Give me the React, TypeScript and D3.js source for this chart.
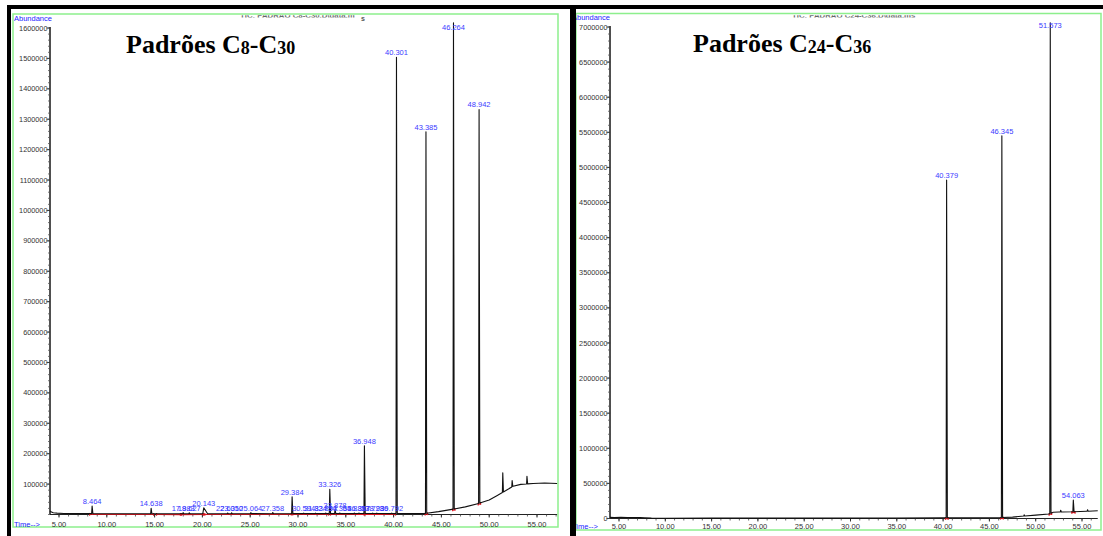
import React from "react";
import * as d3 from "d3";

const W = 1103;
const H = 536;

// ---------- Padrões C8–C30 ----------
const c8BaseTimes = [4.06, 4.15, 4.4, 4.8, 5.5, 7, 10, 12.5, 15, 17.5, 20, 22.5, 25, 27.5, 30, 32.5, 35, 37.5, 40, 42, 43.3, 44.7, 46.1, 47.5, 48.9, 50, 50.8, 51.7, 52.5, 53.3, 54.6, 55.8, 57.1];
const c8BaseAbund = [12000, 9000, 6000, 4500, 3500, 3000, 2600, 2500, 2600, 2500, 2700, 2600, 2800, 2700, 3000, 2900, 3000, 3100, 3000, 3300, 3600, 9500, 16800, 25000, 36500, 48000, 62000, 78000, 93000, 99000, 102000, 103500, 102000];
const c8PeakTimes = [8.464, 14.638, 17.983, 18.627, 20.143, 22.631, 23.05, 25.064, 27.358, 29.384, 30.594, 31.834, 32.893, 33.326, 33.878, 34.364, 35.885, 36.367, 36.948, 37.798, 38.236, 39.792, 40.301, 43.385, 46.264, 48.942];
const c8PeakAbund = [28000, 20000, 6000, 5500, 22000, 5000, 5500, 6000, 6500, 58000, 4500, 4500, 5000, 83000, 16000, 5000, 5000, 5000, 226000, 4500, 4500, 4500, 1504000, 1259000, 1617000, 1332000];
const c8SmallSpikeTimes = [51.42, 52.4, 53.95];
const c8SmallSpikeAbund = [137000, 112000, 126000];
const c8IntegStart = [8.2, 15.2, 17.8, 20.25, 29.45, 33.4, 37.0, 43.3, 46.18, 48.85];
const c8IntegEnd = [14.9, 17.7, 20.1, 29.3, 33.2, 36.9, 40.2, 43.55, 46.42, 49.1];
const c8YTicks = [100000, 200000, 300000, 400000, 500000, 600000, 700000, 800000, 900000, 1000000, 1100000, 1200000, 1300000, 1400000, 1500000, 1600000];

// ---------- Padrões C24–C36 ----------
const c24BaseTimes = [4.03, 4.5, 5.2, 5.9, 6.6, 7.3, 7.8, 8.5, 10, 15, 20, 25, 30, 35, 40, 43, 46, 47.5, 48.7, 50, 51.4, 51.9, 52.5, 54.1, 55.5, 56.7];
const c24BaseAbund = [16000, 14500, 15500, 14000, 15000, 13000, 9000, 5000, 4000, 5000, 5000, 6000, 6000, 7000, 10000, 11000, 11000, 20000, 35000, 48000, 64000, 88000, 92000, 97000, 103000, 110000];
const c24PeakTimes = [40.379, 46.345, 51.573, 54.063];
const c24PeakAbund = [4820000, 5450000, 7060000, 264000];
const c24SmallSpikeTimes = [48.75, 52.7, 55.6];
const c24SmallSpikeAbund = [52000, 118000, 125000];
const c24IntegStart = [40.25, 46.2, 51.45, 53.9];
const c24IntegEnd = [40.55, 46.5, 51.72, 54.25];
const c24YTicks = [0, 500000, 1000000, 1500000, 2000000, 2500000, 3000000, 3500000, 4000000, 4500000, 5000000, 5500000, 6000000, 6500000, 7000000];

// shared time axis
const timeTicks = [5, 10, 15, 20, 25, 30, 35, 40, 45, 50, 55];

const SANS = "'Liberation Sans', Arial, Helvetica, sans-serif";
const SERIF = "'Liberation Serif', 'Times New Roman', Times, serif";
const LABEL_BLUE = "#3b3bff";
const FRAME_GREEN = "#8def8d";

type PanelSpec = {
  id: string;
  x: d3.ScaleLinear<number, number>;
  y: d3.ScaleLinear<number, number>;
  tEnd: number;
  yTop: number;
  yMinorStep: number;
  baseTimes: number[];
  baseAbund: number[];
  peakTimes: number[];
  peakAbund: number[];
  spikeTimes: number[];
  spikeAbund: number[];
  integStart: number[];
  integEnd: number[];
  yTicks: number[];
  frame: [number, number, number, number];
  labelMinY: number;
  tickLabelY: number;
  abundanceX: number;
  abundanceY: number;
  header: string;
  headerX: number;
  title: [string, string, string];
  titleX: number;
  titleY: number;
  wideTimes?: number[];
};

function buildTrace(s: PanelSpec): [number, number][] {
  const base = d3.scaleLinear(s.baseTimes, s.baseAbund).clamp(true);
  const wins: { t: number; a: number; l: number; r: number }[] = [];
  s.peakTimes.forEach((t, i) => {
    const wide = s.wideTimes && s.wideTimes.includes(t);
    wins.push({ t, a: s.peakAbund[i], l: wide ? 0.1 : 0.05, r: wide ? 0.4 : 0.08 });
  });
  s.spikeTimes.forEach((t, i) => wins.push({ t, a: s.spikeAbund[i], l: 0.04, r: 0.07 }));
  const pts: [number, number][] = s.baseTimes
    .map((t, i) => [t, s.baseAbund[i]] as [number, number])
    .filter(([t]) => !wins.some((w) => t >= w.t - w.l && t <= w.t + w.r));
  wins.forEach((w) => {
    pts.push([w.t - w.l, base(w.t - w.l)], [w.t, w.a], [w.t + w.r, base(w.t + w.r)]);
  });
  pts.sort((a, b) => a[0] - b[0]);
  return pts;
}

function Panel({ s }: { s: PanelSpec }) {
  const { x, y } = s;
  const x0 = x(s.baseTimes[0]);
  const x1 = x(s.tEnd);
  const y0 = y(0);
  const base = d3.scaleLinear(s.baseTimes, s.baseAbund).clamp(true);
  const line = d3
    .line<[number, number]>()
    .x((d) => x(d[0]))
    .y((d) => y(d[1]));
  const trace = buildTrace(s);

  const minorY: number[] = d3.range(0, s.yTop + 1, s.yMinorStep);
  const minorX: number[] = d3.range(5, Math.floor(s.tEnd) + 1, 1);
  const [fx0, fy0, fx1, fy1] = s.frame;

  return (
    <g>
      <rect x={fx0} y={fy0} width={fx1 - fx0} height={fy1 - fy0} fill="none" stroke={FRAME_GREEN} strokeWidth={1.5} />

      {/* instrument header line, mostly hidden under the top border */}
      <clipPath id={`${s.id}-hdr`}>
        <rect x={fx0} y={15.2} width={fx1 - fx0} height={2.2} />
      </clipPath>
      <text x={s.headerX} y={17.6} fontFamily={SANS} fontSize={7.8} fontWeight="bold" fill="#666" clipPath={`url(#${s.id}-hdr)`}>
        {s.header}
      </text>

      <text x={s.abundanceX} y={s.abundanceY} fontFamily={SANS} fontSize={7.5} fill="#2222ff">
        Abundance
      </text>
      <text x={s.abundanceX} y={s.tickLabelY} fontFamily={SANS} fontSize={7.5} fill="#2222ff">
        Time--&gt;
      </text>

      {/* y axis */}
      <line x1={x0} x2={x0} y1={y(s.yTop) - 1} y2={y0} stroke="#333" strokeWidth={1.7} />
      {minorY.map((v) => (
        <line key={`my${v}`} x1={x0 - 2} x2={x0} y1={y(v)} y2={y(v)} stroke="#555" strokeWidth={0.8} />
      ))}
      {s.yTicks.map((v) => (
        <g key={`yt${v}`}>
          <line x1={x0 - 3.5} x2={x0} y1={y(v)} y2={y(v)} stroke="#333" strokeWidth={0.9} />
          <text x={x0 - 2.5} y={y(v) + 2.6} textAnchor="end" fontFamily={SANS} fontSize={7.3} fill="#333">
            {d3.format("d")(v)}
          </text>
        </g>
      ))}

      {/* x axis */}
      <line x1={x0} x2={x1} y1={y0} y2={y0} stroke="#222" strokeWidth={1.1} />
      {minorX.map((t) => (
        <line key={`mx${t}`} x1={x(t)} x2={x(t)} y1={y0} y2={y0 + 2} stroke="#444" strokeWidth={0.8} />
      ))}
      {timeTicks.map((t) => (
        <g key={`xt${t}`}>
          <line x1={x(t)} x2={x(t)} y1={y0} y2={y0 + 3} stroke="#222" strokeWidth={0.9} />
          <text x={x(t)} y={s.tickLabelY} textAnchor="middle" fontFamily={SANS} fontSize={7.5} fill="#333">
            {t.toFixed(2)}
          </text>
        </g>
      ))}

      {/* integration baselines */}
      {s.integStart.map((a, i) => {
        const b = s.integEnd[i];
        const ya = y(base(a)) + 0.8;
        const yb = y(base(b)) + 0.8;
        return (
          <g key={`ig${i}`} stroke="#e0141e" strokeWidth={1.2}>
            <line x1={x(a)} x2={x(b)} y1={ya} y2={yb} />
            <line x1={x(a)} x2={x(a)} y1={ya - 1.5} y2={ya + 1.2} />
            <line x1={x(b)} x2={x(b)} y1={yb - 1.5} y2={yb + 1.2} />
          </g>
        );
      })}

      <path d={line(trace) ?? ""} fill="none" stroke="#111" strokeWidth={1.1} strokeLinejoin="round" />

      {/* retention-time labels */}
      {s.peakTimes.map((t, i) => {
        const ly = Math.max(Math.min(y(s.peakAbund[i]) - 2, y0 - 3), s.labelMinY);
        return (
          <text key={`pl${i}`} x={x(t)} y={ly} textAnchor="middle" fontFamily={SANS} fontSize={7.5} fill={LABEL_BLUE}>
            {t.toFixed(3)}
          </text>
        );
      })}

      <text x={s.titleX} y={s.titleY} fontFamily={SERIF} fontWeight="bold" fontSize={26} fill="#000">
        <tspan>{s.title[0]}</tspan>
        <tspan fontSize={18} dy={1.5}>{s.title[1]}</tspan>
        <tspan dy={-1.5}>-C</tspan>
        <tspan fontSize={18} dy={0.8}>{s.title[2]}</tspan>
      </text>
    </g>
  );
}

export default function App() {
  const leftX = d3.scaleLinear().domain([5, 55]).range([59, 537]);
  const leftY = d3.scaleLinear().domain([0, 1600000]).range([514.5, 28]);
  const rightX = d3.scaleLinear().domain([5, 55]).range([619, 1082]);
  const rightY = d3.scaleLinear().domain([0, 7000000]).range([518.5, 27]);

  const left: PanelSpec = {
    id: "c8",
    x: leftX,
    y: leftY,
    tEnd: 57.1,
    yTop: 1600000,
    yMinorStep: 20000,
    baseTimes: c8BaseTimes,
    baseAbund: c8BaseAbund,
    peakTimes: c8PeakTimes,
    peakAbund: c8PeakAbund,
    spikeTimes: c8SmallSpikeTimes,
    spikeAbund: c8SmallSpikeAbund,
    integStart: c8IntegStart,
    integEnd: c8IntegEnd,
    yTicks: c8YTicks,
    frame: [13, 14, 558, 527],
    labelMinY: 30,
    tickLabelY: 526.5,
    abundanceX: 14,
    abundanceY: 20.5,
    header: "TIC: PADRAO C8-C30.D\\data.m",
    headerX: 240,
    title: ["Padrões C", "8", "30"],
    titleX: 126,
    titleY: 52.7,
    wideTimes: [20.143],
  };

  const right: PanelSpec = {
    id: "c24",
    x: rightX,
    y: rightY,
    tEnd: 56.7,
    yTop: 7000000,
    yMinorStep: 100000,
    baseTimes: c24BaseTimes,
    baseAbund: c24BaseAbund,
    peakTimes: c24PeakTimes,
    peakAbund: c24PeakAbund,
    spikeTimes: c24SmallSpikeTimes,
    spikeAbund: c24SmallSpikeAbund,
    integStart: c24IntegStart,
    integEnd: c24IntegEnd,
    yTicks: c24YTicks,
    frame: [576, 13.5, 1101, 530],
    labelMinY: 27.7,
    tickLabelY: 529,
    abundanceX: 572,
    abundanceY: 19.7,
    header: "TIC: PADRAO C24-C36.D\\data.ms",
    headerX: 792,
    title: ["Padrões C", "24", "36"],
    titleX: 693,
    titleY: 51.7,
  };

  return (
    <svg
      width={W}
      height={H}
      viewBox={`0 0 ${W} ${H}`}
      style={{ position: "absolute", left: 0, top: 0, background: "#fff" }}
    >
      <rect x={0} y={0} width={W} height={H} fill="#fff" />
      <Panel s={left} />
      <Panel s={right} />
      <text x={361} y={21} fontFamily={SANS} fontSize={7} fontWeight="bold" fill="#555">s</text>
      {/* dark borders */}
      <rect x={7} y={5} width={W - 7} height={4} fill="#000" />
      <rect x={7} y={5} width={4} height={H - 5} fill="#000" />
      <rect x={570} y={5} width={6} height={H - 5} fill="#000" />
    </svg>
  );
}
